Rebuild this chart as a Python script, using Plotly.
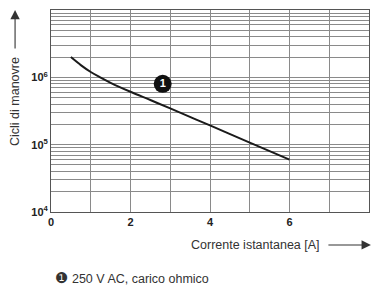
import plotly.graph_objects as go

current_a = [0.5, 0.75, 1.0, 1.25, 1.5, 2.0, 2.5, 3.0, 4.0, 5.0, 6.0]
cycles = [2.0e6, 1.52e6, 1.2e6, 9.9e5, 8.3e5, 6.1e5, 4.6e5, 3.45e5, 1.93e5, 1.07e5, 6.0e4]

label_x = [2.81]
label_y = [8.0e5]
label_text = ["1"]

y_tickvals = [1e4, 1e5, 1e6]
y_ticktext = ["10<sup>4</sup>", "10<sup>5</sup>", "10<sup>6</sup>"]
x_tickvals = [0, 2, 4, 6, 8]

FONT = "Liberation Sans, Arial, sans-serif"
GRID = "#8a8a8a"

fig = go.Figure()
fig.add_trace(go.Scatter(
    x=current_a, y=cycles, mode="lines",
    line=dict(color="#1a1a1a", width=2, shape="spline", smoothing=1.0),
    showlegend=False, hoverinfo="skip"))
fig.add_trace(go.Scatter(
    x=label_x, y=label_y, mode="markers+text", text=label_text,
    textposition="middle center",
    textfont=dict(color="white", size=11, family=FONT, weight="bold"),
    marker=dict(color="#111111", size=18),
    showlegend=False, hoverinfo="skip"))

fig.update_xaxes(
    range=[0, 8], tickvals=x_tickvals, ticktext=[str(v) for v in x_tickvals],
    showgrid=True, gridcolor=GRID, gridwidth=1,
    minor=dict(dtick=1, showgrid=True, gridcolor=GRID, gridwidth=1, ticks=""),
    showline=True, linecolor="#555", linewidth=1, mirror=True,
    ticks="", zeroline=False, automargin=False,
    tickfont=dict(family=FONT, size=11, color="#222", weight="bold"))
fig.update_yaxes(
    type="log", range=[4, 7], tickvals=y_tickvals, ticktext=y_ticktext,
    showgrid=True, gridcolor=GRID, gridwidth=1,
    minor=dict(dtick="D1", showgrid=True, gridcolor=GRID, gridwidth=1, ticks=""),
    showline=True, linecolor="#555", linewidth=1, mirror=True,
    ticks="", zeroline=False, automargin=False,
    tickfont=dict(family=FONT, size=11, color="#222", weight="bold"))

annotations = [
    dict(text="Cicli di manovre", textangle=-90, xref="paper", yref="paper",
         x=-0.113, y=0.545, xanchor="center", yanchor="middle", showarrow=False,
         font=dict(family=FONT, size=12.5, color="#333")),
    dict(text="Corrente istantanea [A]", xref="paper", yref="paper",
         x=0.852, y=-0.163, xanchor="right", yanchor="middle", showarrow=False,
         font=dict(family=FONT, size=12.5, color="#333")),
    dict(text="<span style='font-family:DejaVu Sans;font-size:15px'>\u2776</span> 250 V AC, carico ohmico",
         xref="paper", yref="paper", x=0.005, y=-0.327, xanchor="left",
         yanchor="middle", showarrow=False,
         font=dict(family=FONT, size=12.5, color="#333")),
    # arrows
    dict(x=-0.113, y=1.0, ax=0, ay=40, xref="paper", yref="paper",
         text="", showarrow=True, arrowhead=2,
         arrowsize=1.7, arrowwidth=1.1, arrowcolor="#333"),
    dict(x=1.006, y=-0.163, ax=-44, ay=0, xref="paper", yref="paper",
         text="", showarrow=True, arrowhead=2,
         arrowsize=1.7, arrowwidth=1.1, arrowcolor="#333"),
]

fig.update_layout(
    width=372, height=286,
    margin=dict(l=51, r=3, t=10, b=74),
    paper_bgcolor="white", plot_bgcolor="white",
    font=dict(family=FONT),
    annotations=annotations,
)

fig.write_html(
    "out.html",
    config={"displayModeBar": False},
    post_script="document.body.style.margin='0';document.body.style.padding='0';",
)
